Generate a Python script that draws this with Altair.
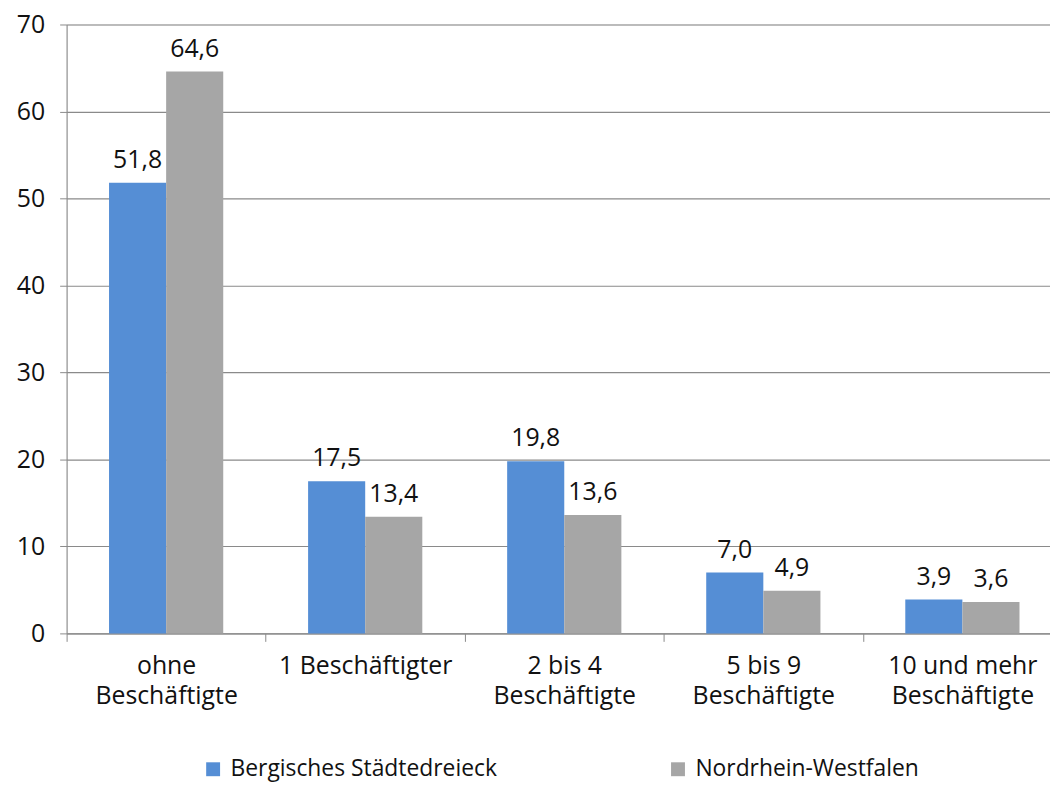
import altair as alt
import pandas as pd

categories = ["ohne\nBeschäftigte", "1 Beschäftigter", "2 bis 4\nBeschäftigte",
              "5 bis 9\nBeschäftigte", "10 und mehr\nBeschäftigte"]
series = ["Bergisches Städtedreieck", "Nordrhein-Westfalen"]
bergisch = [51.8, 17.5, 19.8, 7.0, 3.9]
nrw = [64.6, 13.4, 13.6, 4.9, 3.6]
colors = ["#558ED5", "#A6A6A6"]
y_ticks = [0, 10, 20, 30, 40, 50, 60, 70]

rows = []
for c, b, n in zip(categories, bergisch, nrw):
    rows.append({"Kategorie": c, "Serie": series[0], "Wert": b})
    rows.append({"Kategorie": c, "Serie": series[1], "Wert": n})
df = pd.DataFrame(rows)

FONT = "Open Sans"
FS = 25
GRID = "#8A8A8A"
TXT = "#111111"

base = alt.Chart(df).encode(
    x=alt.X("Kategorie:N", sort=categories,
            scale=alt.Scale(range=[0, 1002], paddingInner=0, paddingOuter=0),
            axis=alt.Axis(title=None, labelAngle=0, labelExpr="split(datum.label, '\\n')",
                          tickBand="extent", tickSize=8, tickColor=GRID, domainColor=GRID,
                          labelPadding=12, labelLineHeight=31, labelFontSize=FS,
                          labelColor=TXT, labelFont=FONT, grid=False, labelLimit=0)),
    xOffset=alt.XOffset("Serie:N", sort=series,
                        scale=alt.Scale(paddingOuter=0.743, paddingInner=0)),
    y=alt.Y("Wert:Q", scale=alt.Scale(domain=[0, 70], nice=False),
            axis=alt.Axis(title=None, values=y_ticks, tickSize=7, tickColor=GRID,
                          domainColor=GRID, gridColor=GRID, gridWidth=1.2,
                          labelPadding=15, labelFontSize=FS, labelColor=TXT,
                          labelFont=FONT)),
)

bars = base.mark_bar().encode(
    color=alt.Color("Serie:N", sort=series,
                    scale=alt.Scale(domain=series, range=colors),
                    legend=alt.Legend(title=None, orient="none", legendX=136, legendY=738,
                                      direction="horizontal", symbolType="square",
                                      symbolSize=196, symbolStrokeWidth=0,
                                      labelFontSize=23, labelFont=FONT, labelColor=TXT,
                                      columnPadding=170, labelOffset=6, labelLimit=0)),
)

labels = base.transform_calculate(
    Text="replace(format(datum.Wert, '.1f'), '.', ',')"
).mark_text(baseline="alphabetic", dy=-15, fontSize=FS, font=FONT, color=TXT).encode(
    text="Text:N"
)

chart = (bars + labels).properties(
    width=990, height=613,
    autosize=alt.AutoSizeParams(type="none"),
    padding={"left": 59, "top": 14, "right": 0, "bottom": 150},
).configure_view(stroke=None).configure(font=FONT)

chart.save("out.html", embed_options={"renderer": "svg", "actions": False})
